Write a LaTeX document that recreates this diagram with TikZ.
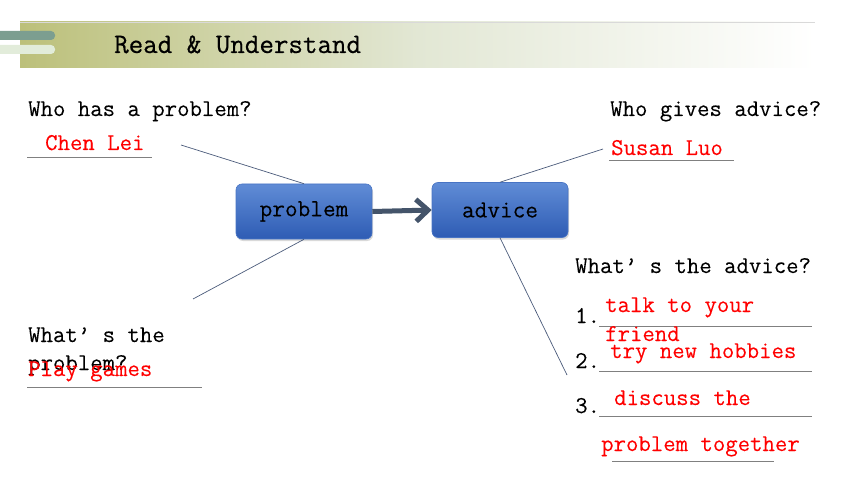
\documentclass[tikz,border=0pt]{standalone}
\usepackage{fontspec}
\setmainfont[FakeBold=0.1]{Latin Modern Mono}
\newfontfamily\titlefont[FakeBold=0.5]{Latin Modern Mono}
\usetikzlibrary{arrows.meta,shadows}
\definecolor{bannerL}{RGB}{188,192,122}
\definecolor{bannerM}{RGB}{226,231,212}
\definecolor{stripeD}{RGB}{124,158,144}
\definecolor{stripeL}{RGB}{226,236,218}
\definecolor{boxTop}{RGB}{96,140,214}
\definecolor{boxBot}{RGB}{46,92,180}
\definecolor{boxEdge}{RGB}{72,116,196}
\definecolor{linec}{RGB}{74,90,122}
\definecolor{arrowc}{RGB}{68,84,106}
\definecolor{blankgray}{RGB}{128,128,128}
\begin{document}
\begin{tikzpicture}[x=1pt,y=-1pt,
  txt/.style={inner sep=0pt,anchor=base west,font=\fontsize{24.1}{26}\selectfont},
  ans/.style={txt,text=red},
  titletxt/.style={inner sep=0pt,anchor=base west,font=\titlefont\fontsize{28.2}{30}\selectfont},
  blank/.style={draw=blankgray,line width=0.8pt},
  conn/.style={draw=linec,line width=0.7pt},
  box/.style={rounded corners=6pt,top color=boxTop,bottom color=boxBot,draw=boxEdge,line width=0.6pt,
    minimum height=55pt,inner sep=0pt,font=\fontsize{24.6}{26}\selectfont,
    drop shadow={opacity=0.3,shadow xshift=1pt,shadow yshift=-2pt}},
  bigarrow/.style={draw=arrowc,line width=5pt,-{Straight Barb[length=12pt,width=22pt]}}]
\useasboundingbox (0,0) rectangle (860,484);
% banner
\shade[left color=bannerL,right color=white,middle color=bannerM] (20,22) rectangle (815,68);
\draw[white!85!black,line width=0.5pt] (20,22) -- (815,22);
\fill[stripeD,rounded corners=4pt] (-10,31) rectangle (55,40);
\fill[stripeL,rounded corners=4pt] (-10,45) rectangle (55,54);
\node[titletxt] (title) at (114,53) {Read \& Understand};
% boxes
\node[box,minimum width=136pt] (prob) at (304,211.5) {problem};
\node[box,minimum width=136pt] (adv) at (500,210) {advice};
\draw[bigarrow] (prob.east) -- (adv.west);
% connector ends
\coordinate (c1) at (181,145);
\coordinate (c2) at (193,299);
\coordinate (c3) at (603,149);
\coordinate (c4) at (567,375);
\draw[conn] (c1) -- (prob.north);
\draw[conn] (prob.south) -- (c2);
\draw[conn] (adv.north) -- (c3);
\draw[conn] (adv.south) -- (c4);
% left top
\node[txt] (q1) at (28,116) {Who has a problem?};
\node[ans] (a1) at (45,150) {Chen Lei};
\draw[blank] (27,157) -- (152,157);
% right top
\node[txt] (q2) at (610,116) {Who gives advice?};
\node[ans] (a2) at (611,155) {Susan Luo};
\draw[blank] (609,160) -- (734,160);
% left bottom
\node[txt] (q3) at (28,342) {What’ s the};
\node[txt] (q3b) at (28,370) {problem?};
\node[ans] (a3) at (28,376) {Play games};
\draw[blank] (27,387) -- (202,387);
% right bottom
\node[txt] (q4) at (575,273) {What’ s the advice?};
\node[txt] (n1) at (575,323) {1.};
\draw[blank] (599,326) -- (812,326);
\node[ans] (a4) at (605,312) {talk to your};
\node[ans] (a4b) at (605,341) {friend};
\node[txt] (n2) at (575,368) {2.};
\draw[blank] (599,371) -- (812,371);
\node[ans] (a5) at (610,358) {try new hobbies};
\node[txt] (n3) at (575,413) {3.};
\draw[blank] (599,416) -- (812,416);
\node[ans] (a6) at (614,405) {discuss the};
\node[ans] (a6b) at (601,451) {problem together};
\draw[blank] (612,461) -- (774,461);
\end{tikzpicture}
\end{document}
